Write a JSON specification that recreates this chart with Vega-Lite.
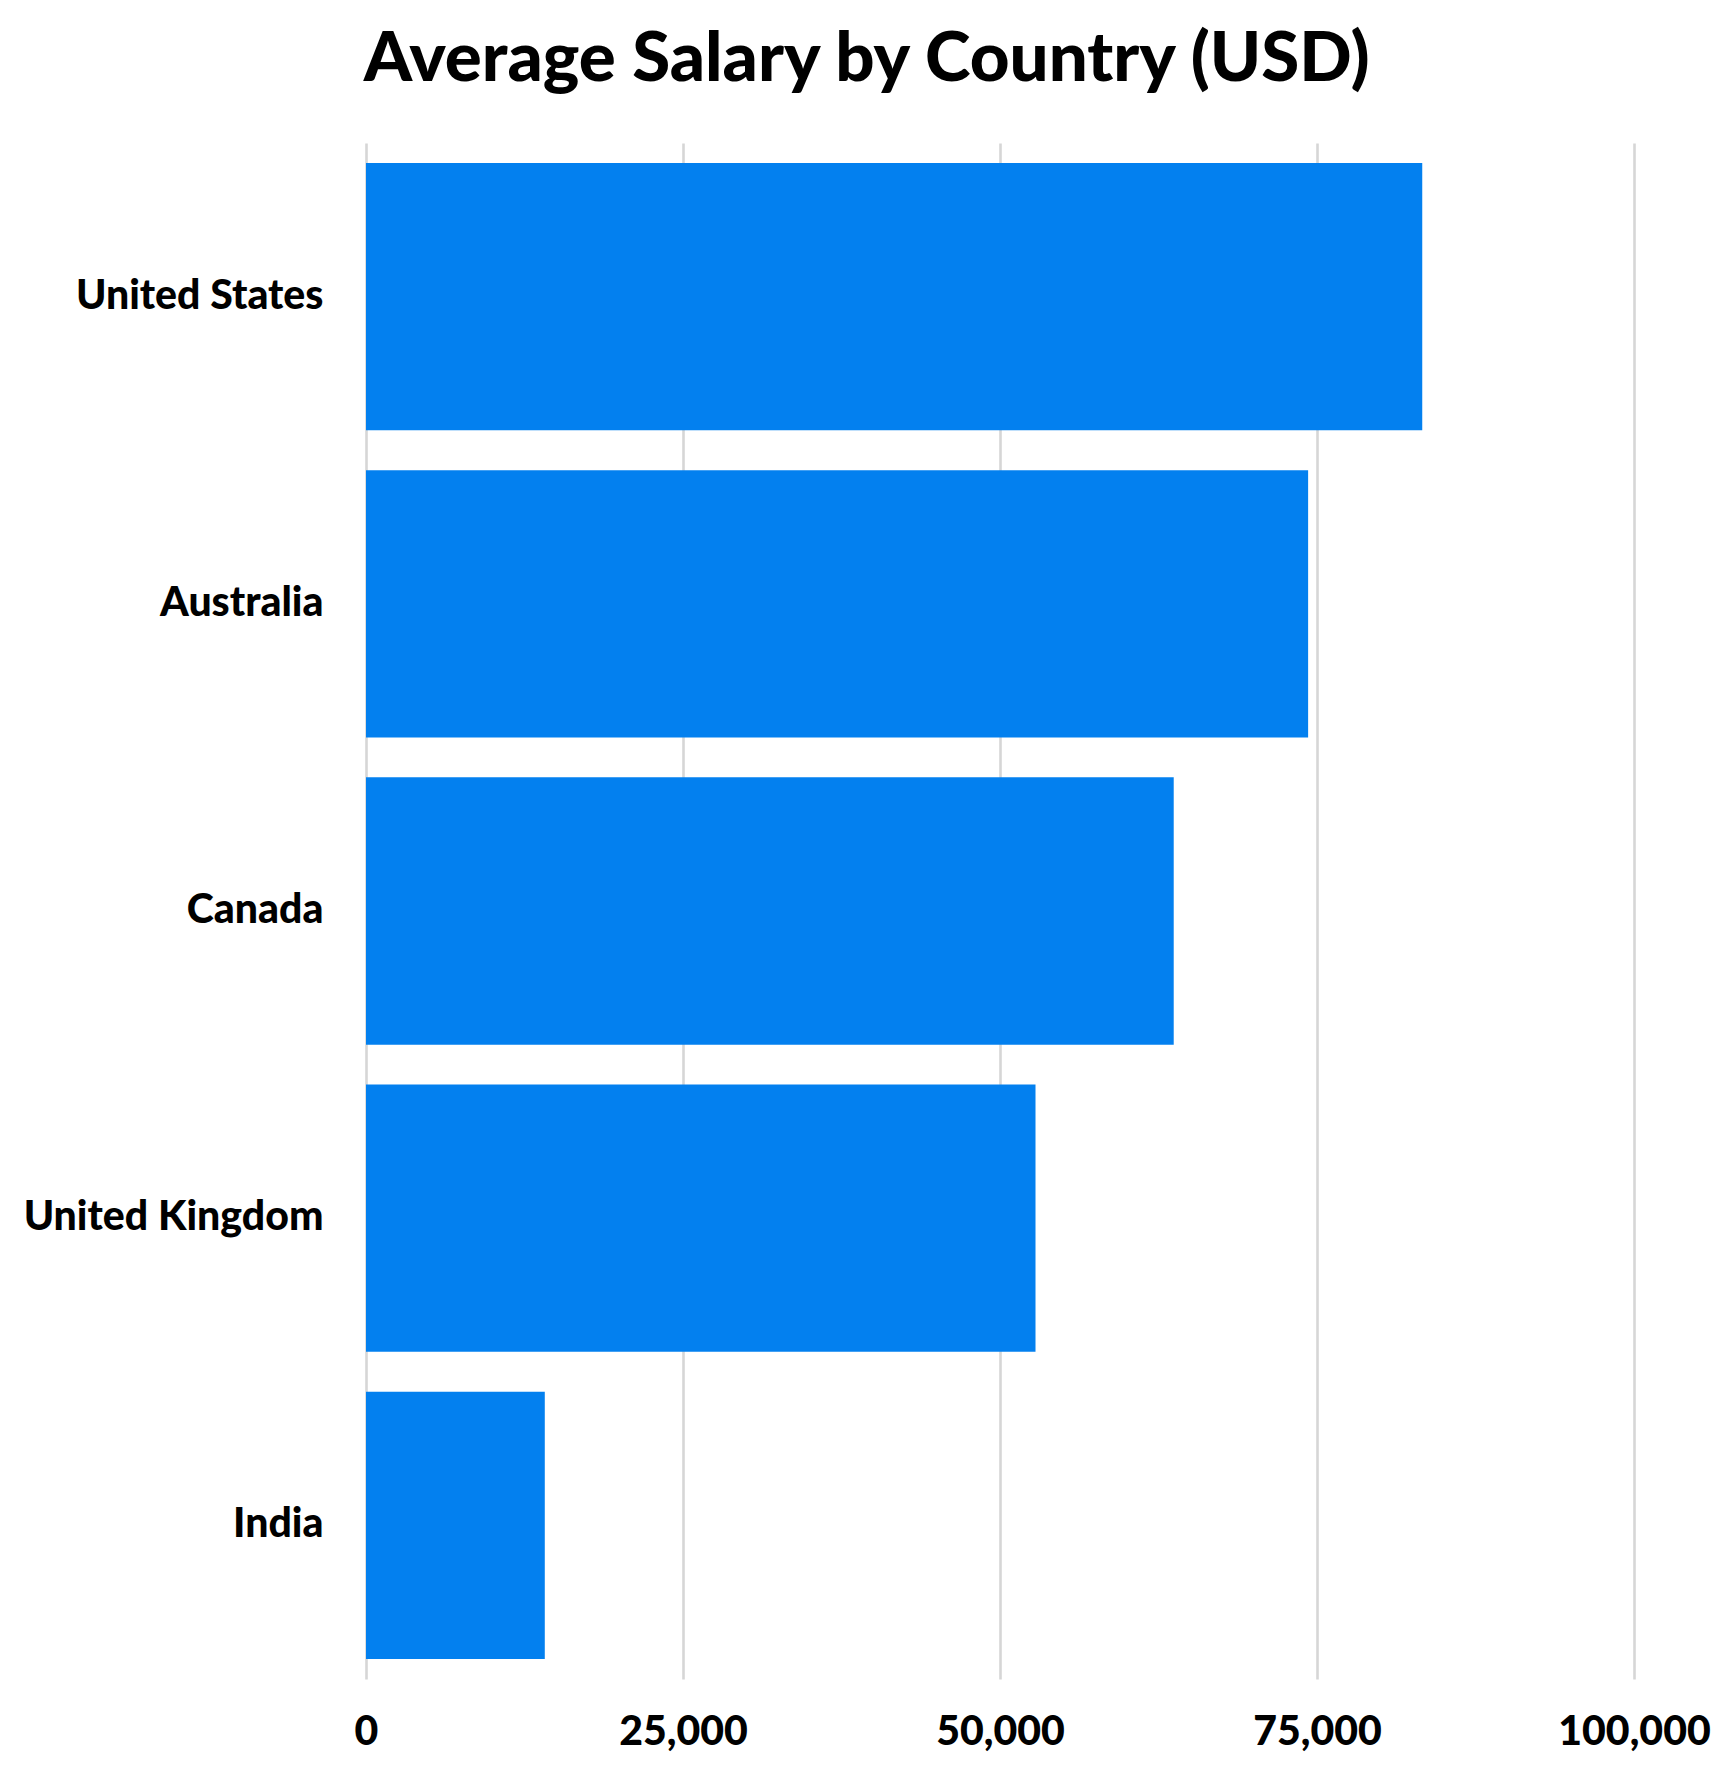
{
  "$schema": "https://vega.github.io/schema/vega-lite/v6.json",
  "background": "white",
  "autosize": {"type": "none"},
  "width": 1268,
  "height": 1536,
  "padding": {"top": 143, "left": 366, "right": 100, "bottom": 99},
  "title": {
    "text": "Average Salary by Country (USD)",
    "anchor": "middle",
    "frame": "bounds",
    "baseline": "alphabetic",
    "offset": -7,
    "font": "Lato",
    "fontSize": 69,
    "fontWeight": 900,
    "color": "#000000"
  },
  "data": {
    "values": [
      {"Country": "United States", "Salary": 83300},
      {"Country": "Australia", "Salary": 74300},
      {"Country": "Canada", "Salary": 63700},
      {"Country": "United Kingdom", "Salary": 52800},
      {"Country": "India", "Salary": 14100}
    ]
  },
  "mark": {"type": "bar", "color": "#0380ef"},
  "encoding": {
    "y": {
      "field": "Country",
      "type": "nominal",
      "sort": null,
      "scale": {"paddingInner": 0.13, "paddingOuter": 0.065},
      "axis": {
        "title": null,
        "ticks": false,
        "domain": false,
        "grid": false,
        "labelPadding": 43,
        "labelLimit": 0,
        "labelFont": "Lato",
        "labelFontSize": 41,
        "labelFontWeight": 900,
        "labelColor": "#000000"
      }
    },
    "x": {
      "field": "Salary",
      "type": "quantitative",
      "scale": {"domain": [0, 100000], "nice": false},
      "axis": {
        "title": null,
        "values": [0, 25000, 50000, 75000, 100000],
        "format": ",.0f",
        "ticks": false,
        "domain": false,
        "grid": true,
        "gridColor": "#d6d6d6",
        "gridWidth": 2.6,
        "labelPadding": 33,
        "labelFont": "Lato",
        "labelFontSize": 41,
        "labelFontWeight": 900,
        "labelColor": "#000000",
        "labelFlush": false
      }
    }
  },
  "config": {
    "view": {"stroke": null}
  }
}
